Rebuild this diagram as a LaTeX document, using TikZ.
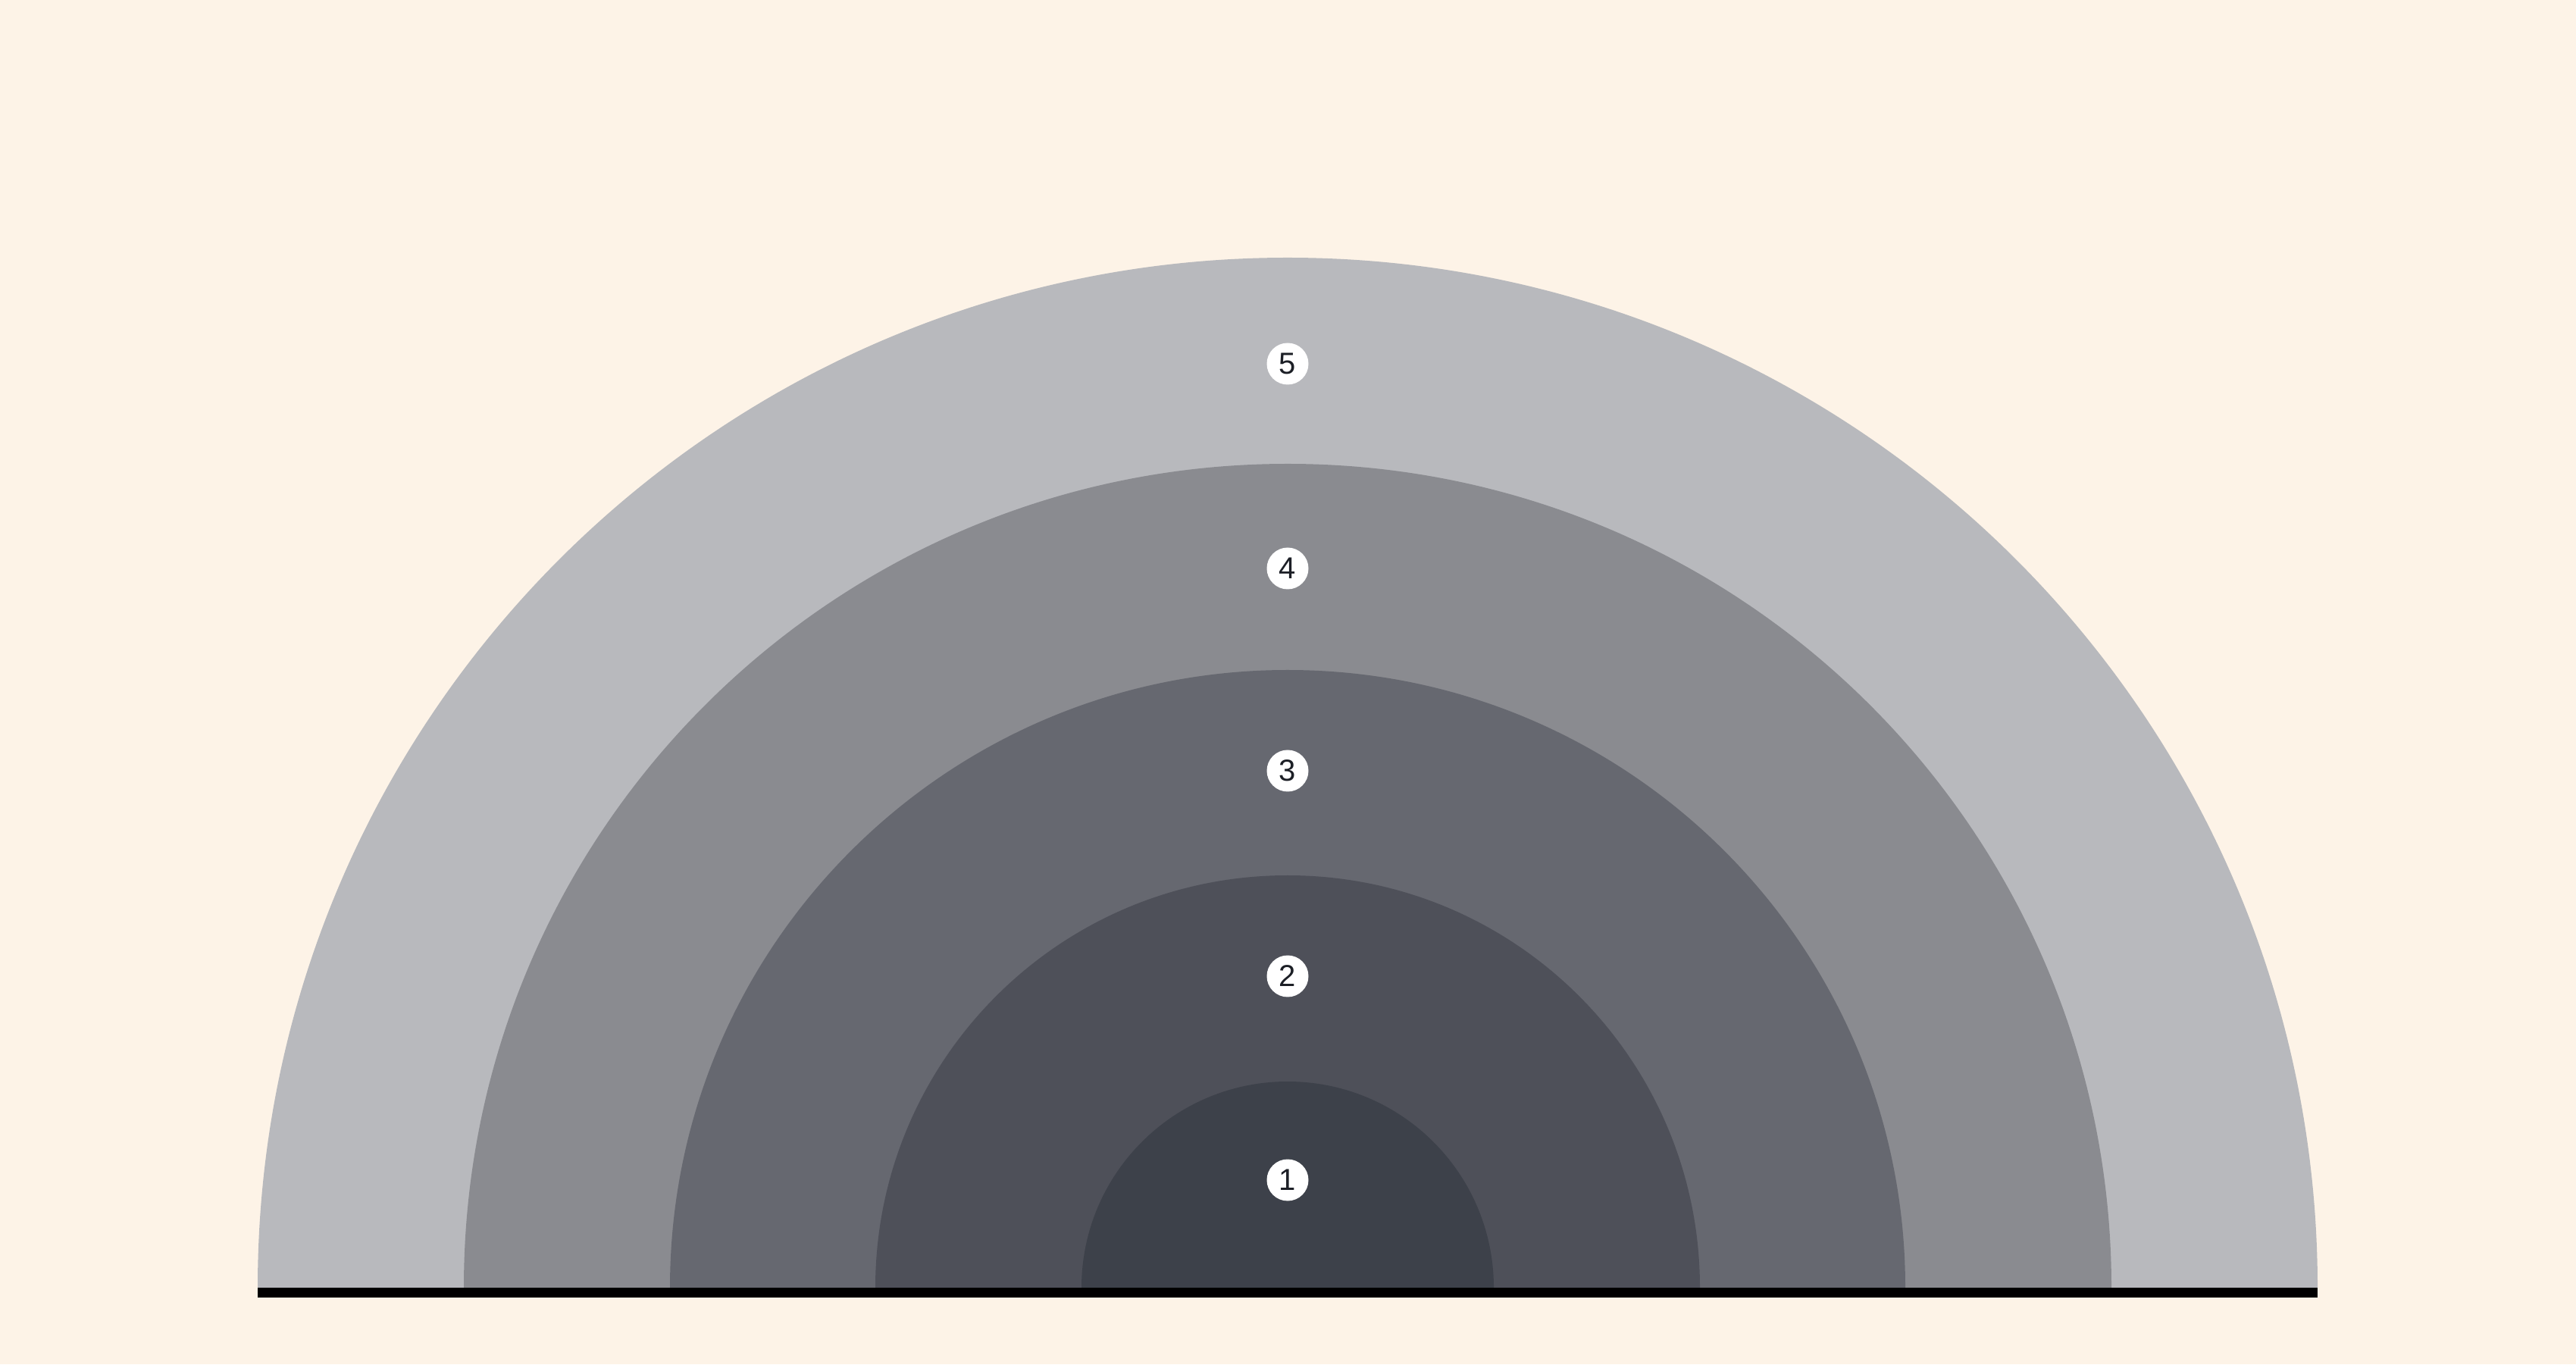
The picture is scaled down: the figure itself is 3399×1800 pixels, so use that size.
\documentclass[tikz,border=0pt]{standalone}
\usepackage{fontspec}
\setmainfont{Liberation Sans}
\usetikzlibrary{calc}
\definecolor{bg}{HTML}{FDF3E7}
\definecolor{ringA}{HTML}{3D414A}
\definecolor{ringB}{HTML}{4E5059}
\definecolor{ringC}{HTML}{666870}
\definecolor{ringD}{HTML}{8A8B90}
\definecolor{ringE}{HTML}{B8B9BD}
\definecolor{baseline}{HTML}{161A22}
\definecolor{txt}{HTML}{1C1F26}
\begin{document}
\begin{tikzpicture}[x=1pt,y=1pt,
  badge/.style={circle,fill=white,minimum size=55pt,inner sep=0pt,text=txt,font=\fontsize{40}{40}\selectfont}]
\fill[bg] (0,0) rectangle (3399,1800);
\useasboundingbox (0,0) rectangle (3399,1800);
\coordinate (c) at (1699,101);
\fill[ringE] ($(c)+(-1359,0)$) arc (180:0:1359) -- cycle;
\fill[ringD] ($(c)+(-1087,0)$) arc (180:0:1087) -- cycle;
\fill[ringC] ($(c)+(-815,0)$) arc (180:0:815) -- cycle;
\fill[ringB] ($(c)+(-544,0)$) arc (180:0:544) -- cycle;
\fill[ringA] ($(c)+(-272,0)$) arc (180:0:272) -- cycle;
\fill[baseline] (340,88) rectangle (3058,101);
\node[badge] (n5) at (1699,1320) {5};
\node[badge] (n4) at (1699,1050) {4};
\node[badge] (n3) at (1699,783) {3};
\node[badge] (n2) at (1699,512) {2};
\node[badge] (n1) at (1699,243) {1};
\end{tikzpicture}
\end{document}
